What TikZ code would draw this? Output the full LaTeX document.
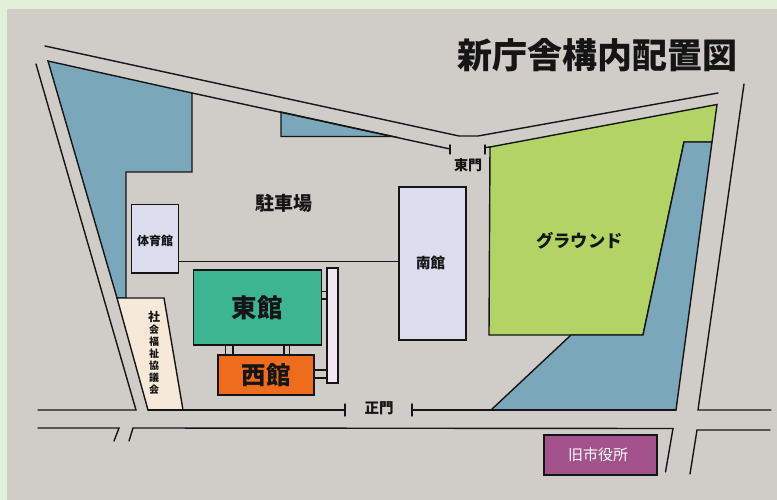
\documentclass[tikz,border=0pt]{standalone}
\usepackage{fontspec}
\setmainfont{Noto Sans CJK JP}
\definecolor{pagebg}{HTML}{E2F0D9}
\definecolor{groundbg}{HTML}{D0CDC8}
\definecolor{bluearea}{HTML}{7BA7BA}
\definecolor{greenarea}{HTML}{B2D465}
\definecolor{bldlav}{HTML}{DBDCEE}
\definecolor{bldeast}{HTML}{3CB590}
\definecolor{bldwest}{HTML}{EF6C1C}
\definecolor{bldcorr}{HTML}{F1E7F3}
\definecolor{bldtan}{HTML}{F7E9D7}
\definecolor{bldold}{HTML}{A3528C}
\definecolor{inkc}{HTML}{151515}
\tikzset{
  road/.style={draw=inkc,line width=1.4pt,line cap=round,line join=miter},
  area/.style={draw=inkc,line width=1.4pt,line join=miter},
  bld/.style={draw=inkc,line width=1.7pt,rectangle,inner sep=0pt,outer sep=0pt,font=\bfseries,text=inkc},
  lbl/.style={inner sep=0pt,outer sep=0pt,font=\bfseries,text=inkc},
  conn/.style={draw=inkc,line width=1.5pt}
}
\newcommand{\fsz}[1]{\fontsize{#1}{#1}\selectfont}
\begin{document}
\begin{tikzpicture}[x=1pt,y=-1pt]
\useasboundingbox (0,0) rectangle (777,500);
\fill[pagebg] (0,0) rectangle (777,500);
\fill[groundbg] (7,9) rectangle (777,500);
% areas
\path[area,fill=bluearea] (48,61) -- (192,93) -- (192,172) -- (126,172) -- (126,298) -- (117,298) -- cycle;
\path[area,fill=bluearea] (281,112) -- (281,136.5) -- (393,136.5) -- cycle;
\path[area,fill=greenarea] (490,147) -- (717,104.5) -- (712,142) -- (684,142) -- (643,335) -- (489,335) -- cycle;
\path[area,fill=bluearea] (684,142) -- (712,142) -- (676,410) -- (491,410) -- (571,335) -- (643,335) -- cycle;
\path[area,fill=bldtan] (117,298) -- (164,298) -- (183,410) -- (148,410) -- cycle;
% roads
\draw[road] (45,46) -- (459,136) -- (478,136) -- (718,93);
\draw[road] (192,93) -- (450,149);
\draw[road] (450,145) -- (450,154);
\draw[road] (485,145) -- (485,154);
\draw[road] (485,147.5) -- (490,147);
\draw[road] (36,64) -- (136,410) -- (38,410);
\draw[road] (148,410) -- (345,410);
\draw[road] (345,404) -- (345,416);
\draw[road] (412,404) -- (412,416);
\draw[road] (412,410) -- (676,410);
\draw[road] (744,84) -- (698,410) -- (771,410);
\draw[road] (38,428) -- (119,428) -- (114,441);
\draw[road] (129,441) -- (133,428) -- (673,428.5) -- (665.5,472);
\draw[road] (690,474) -- (697,430) -- (770,430);
% buildings
\node[bld,fill=bldlav,minimum width=47pt,minimum height=68.5pt] (gym) at (155,238.7) {};
\node[lbl] (gymt) at (155,240.5) {\fsz{12}体育館};
\node[bld,fill=bldlav,minimum width=67.3pt,minimum height=153pt] (south) at (432.4,263.8) {};
\node[lbl] (southt) at (430.5,263) {\fsz{14.5}南館};
\node[bld,fill=bldeast,minimum width=128pt,minimum height=75pt] (east) at (257.4,307.5) {\fsz{25.5}東館};
\node[bld,fill=bldcorr,minimum width=11.3pt,minimum height=114.4pt] (corr) at (332.4,325.5) {};
\node[bld,fill=bldwest,minimum width=95.4pt,minimum height=40pt] (west) at (266,375) {\fsz{24.5}西館};
\node[bld,fill=bldold,line width=1.8pt,minimum width=112.4pt,minimum height=40pt,text=white] (old) at (600.5,454.7) {};
\node[lbl,text=white] (oldt) at (598,454.5) {\fsz{15}\mdseries 旧市役所};
% connectors
\draw[conn] (gym.east |- 0,261.7) -- (south.west |- 0,261.7);
\draw[conn] (east.east |- 0,291.7) -- (corr.west |- 0,291.7);
\draw[conn] (east.east |- 0,299) -- (corr.west |- 0,299);
\draw[conn] (west.east |- 0,370) -- (corr.west |- 0,370);
\draw[conn] (west.east |- 0,378) -- (corr.west |- 0,378);
\draw[conn] (225.3,0 |- east.south) -- (225.3,0 |- west.north);
\draw[conn] (233,0 |- east.south) -- (233,0 |- west.north);
\draw[conn] (284,0 |- east.south) -- (284,0 |- west.north);
\draw[conn] (289.3,0 |- east.south) -- (289.3,0 |- west.north);
% labels
\node[lbl] (title) at (597.5,55) {\fsz{35}新庁舎構内配置図};
\node[lbl] (egate) at (468,165) {\fsz{14}東門};
\node[lbl] (park) at (283.5,203) {\fsz{19}駐車場};
\node[lbl] (grd) at (579.5,241) {\fsz{17.3}グラウンド};
\node[lbl] (mgate) at (379,408.5) {\fsz{14.5}正門};
\node[lbl,align=center] (wel) at (154,353) {\fsz{12}\baselineskip=12pt 社\\会\\福\\祉\\協\\議\\会};
\end{tikzpicture}
\end{document}
